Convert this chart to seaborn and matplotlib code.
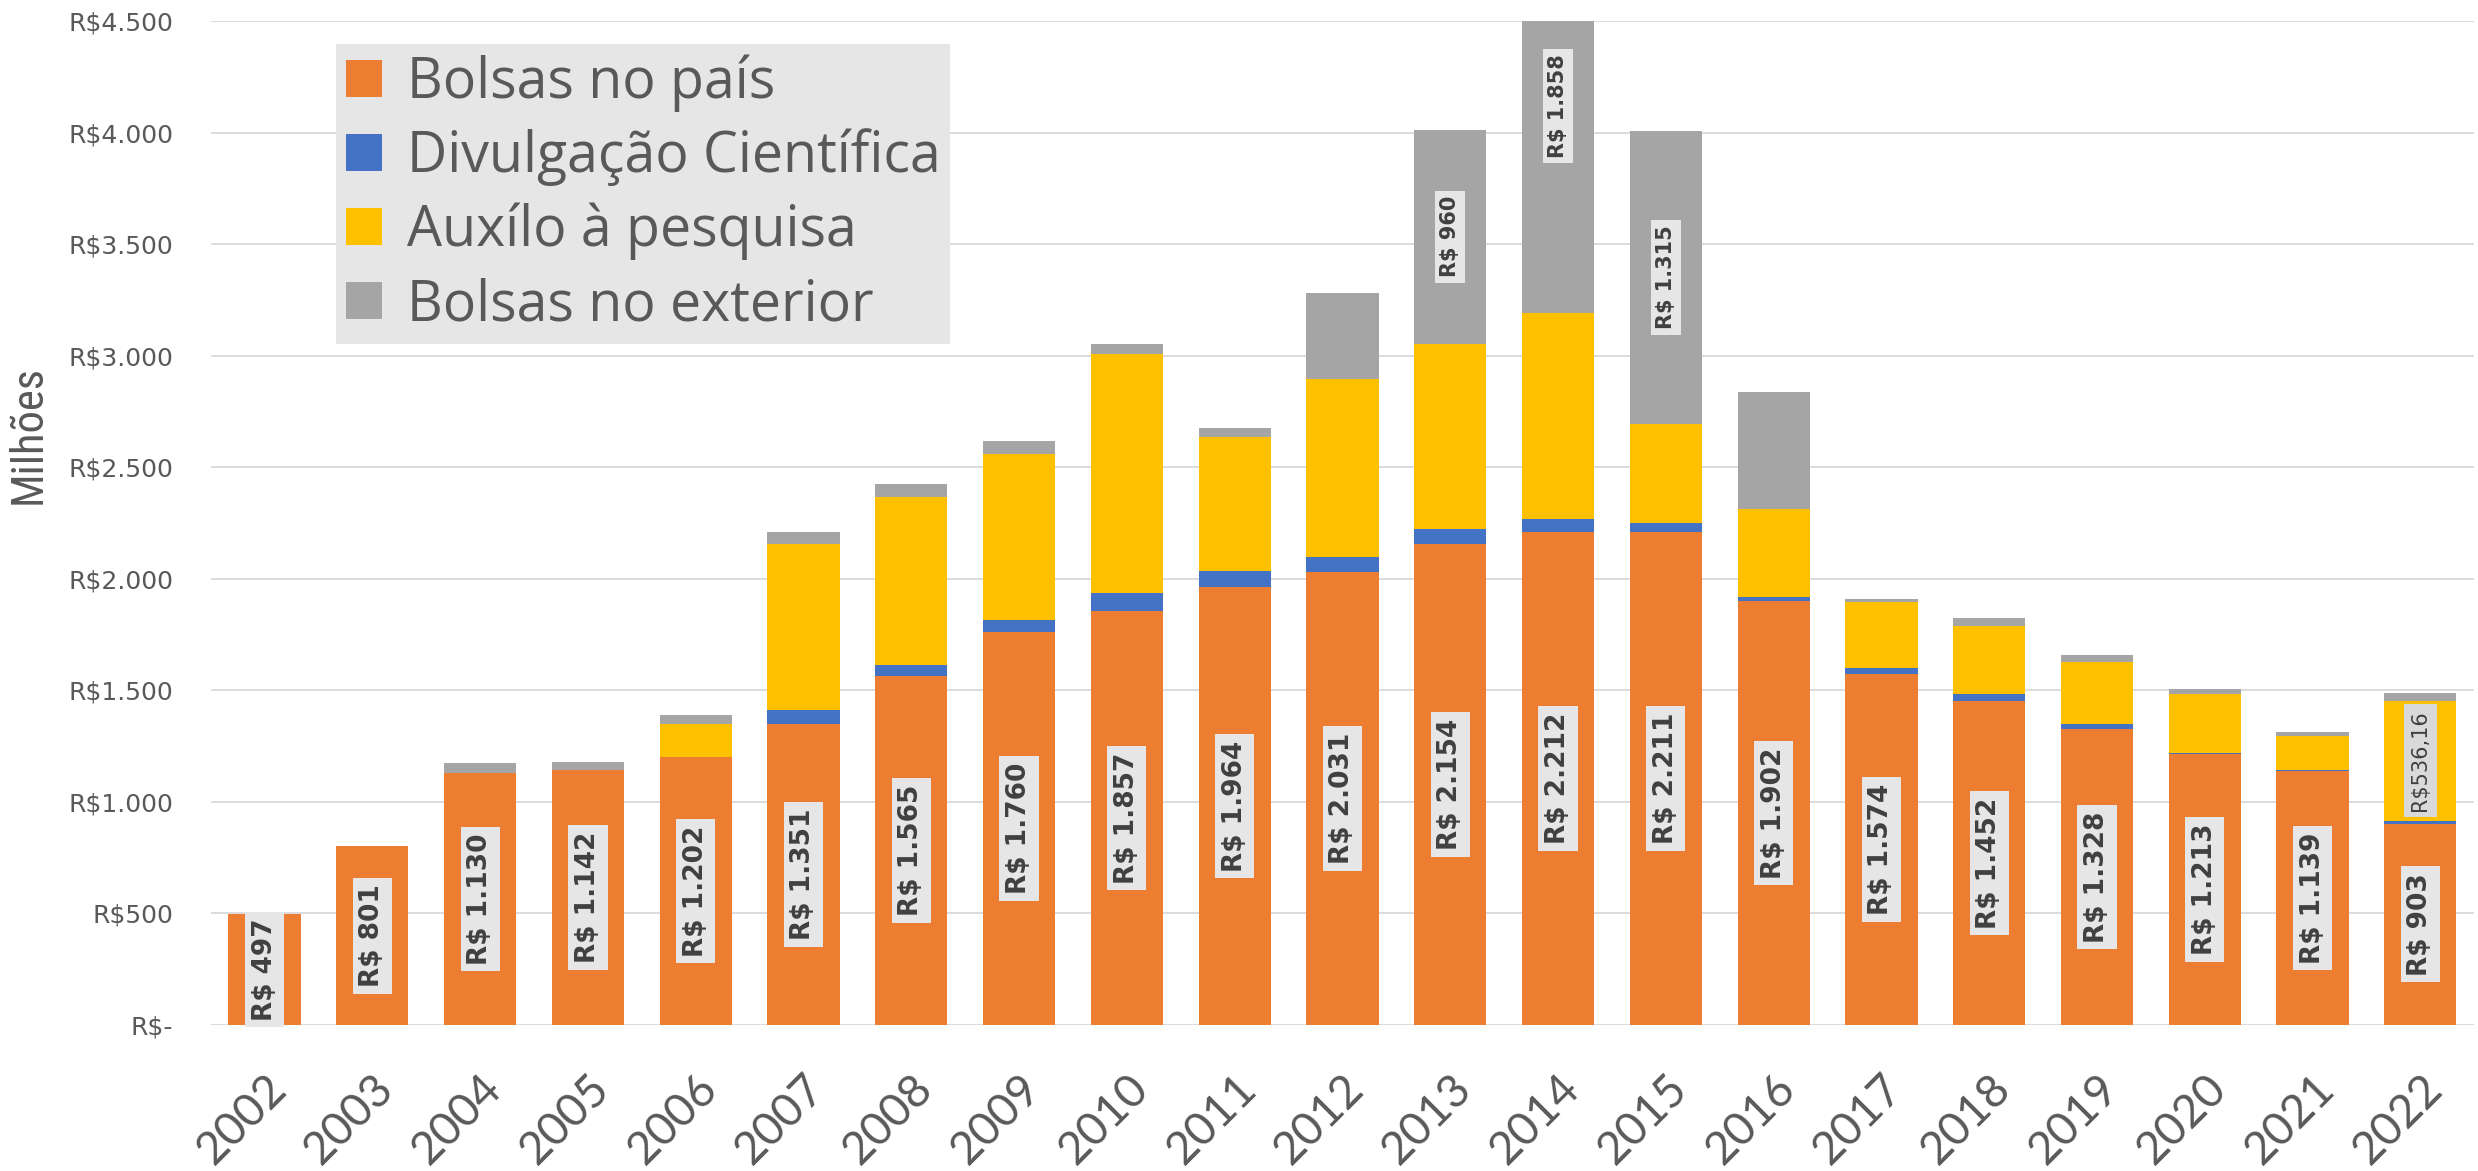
# -*- coding: utf-8 -*-
# Investimento CNPq por modalidade (2002-2022) - barras empilhadas

import pandas as pd
import matplotlib
matplotlib.use('Agg')
import matplotlib.pyplot as plt
import seaborn as sns
from matplotlib.patches import Patch

#%% dados (milhões de R$)
anos = ['2002', '2003', '2004', '2005', '2006', '2007', '2008', '2009', '2010', '2011', '2012',
        '2013', '2014', '2015', '2016', '2017', '2018', '2019', '2020', '2021', '2022']
bolsas_pais = [497, 801, 1130, 1142, 1202, 1351, 1565, 1760, 1857, 1964, 2031,
               2154, 2212, 2211, 1902, 1574, 1452, 1328, 1213, 1139, 903]
divulgacao = [0, 0, 0, 0, 0, 59, 50, 57, 80, 72, 66,
              70, 55, 41, 17, 25, 32, 20, 5, 6, 13]
auxilio = [0, 0, 0, 0, 147, 748, 750, 743, 1070, 600, 797,
           829, 923, 441, 395, 295, 303, 280, 267, 152, 536.16]
exterior = [0, 0, 43, 37, 42, 53, 61, 58, 44, 42, 385,
            960, 1858, 1315, 523, 15, 36, 30, 19, 15, 35]

series = ['Bolsas no país', 'Divulgação Científica', 'Auxílo à pesquisa', 'Bolsas no exterior']
cores = ['#ED7D31', '#4472C4', '#FFC000', '#A5A5A5']

y_ticks = [0, 500, 1000, 1500, 2000, 2500, 3000, 3500, 4000, 4500]
y_rotulos = ['R$-', 'R$500', 'R$1.000', 'R$1.500', 'R$2.000', 'R$2.500',
             'R$3.000', 'R$3.500', 'R$4.000', 'R$4.500']

anos_rotulo_exterior = ['2013', '2014', '2015']
anos_rotulo_auxilio = ['2022']

#%% montagem do dataframe com somas acumuladas
df = pd.DataFrame({'ano': anos, 'pais': bolsas_pais, 'divulg': divulgacao,
                   'aux': auxilio, 'ext': exterior})
df['c1'] = df['pais']
df['c2'] = df['c1'] + df['divulg']
df['c3'] = df['c2'] + df['aux']
df['c4'] = df['c3'] + df['ext']

#%% gráfico
sns.set_theme(style='white')
plt.rcParams['font.family'] = ['DejaVu Sans']
cinza_txt = '#595959'

fig, ax = plt.subplots(figsize=(24.78, 11.71), dpi=100)
fig.subplots_adjust(left=0.085, right=0.9985, bottom=0.1247, top=0.982)

# empilhamento: desenha do total para a base
for col, cor in [('c4', cores[3]), ('c3', cores[2]), ('c2', cores[1]), ('c1', cores[0])]:
    sns.barplot(data=df, x='ano', y=col, color=cor, saturation=1, width=0.67,
                errorbar=None, linewidth=0, ax=ax)

ax.set_xlim(-0.5, len(anos) - 0.5)
ax.set_ylim(0, 4500)
ax.set_yticks(y_ticks)
ax.set_yticklabels(y_rotulos)
ax.set_axisbelow(True)
ax.yaxis.grid(True, color='#d9d9d9', linewidth=1.3)
ax.xaxis.grid(False)
for s in ax.spines.values():
    s.set_visible(False)
ax.tick_params(length=0)
ax.tick_params(axis='y', labelsize=18, labelcolor=cinza_txt, pad=27)
ax.tick_params(axis='x', labelsize=33, labelcolor=cinza_txt, pad=30)
plt.setp(ax.get_xticklabels(), rotation=45, ha='right', va='top',
         rotation_mode='anchor', family='Lato')
ax.set_xlabel('')
ax.set_ylabel('Milhões', fontsize=32, color=cinza_txt,
              family=['Liberation Sans Narrow', 'Roboto Condensed', 'Lato'])
ax.yaxis.set_label_coords(-0.071, 0.588)

# rótulos de dados
def moeda(v):
    return 'R$ ' + f'{v:,.0f}'.replace(',', '.')

caixa = dict(boxstyle='square,pad=0.25', fc='#e6e6e6', ec='none')
for i, ano in enumerate(anos):
    ax.text(i, df.c1[i] / 2, moeda(df.pais[i]), rotation=90, ha='center', va='center',
            fontsize=19, fontweight='bold', color='#404040', bbox=caixa)
    if ano in anos_rotulo_exterior:
        ax.text(i, df.c3[i] + df.ext[i] / 2, moeda(df.ext[i]), rotation=90,
                ha='center', va='center', fontsize=15, fontweight='bold',
                color='#404040', bbox=caixa)
    if ano in anos_rotulo_auxilio:
        ax.text(i, df.c2[i] + df.aux[i] / 2, f'R${df.aux[i]:.2f}'.replace('.', ','),
                rotation=90, ha='center', va='center', fontsize=15, color='#404040',
                bbox=dict(boxstyle='square,pad=0.3', fc='#d9d9d9', ec='none'))

# legenda
handles = [Patch(facecolor=c, edgecolor='none') for c in cores]
leg = ax.legend(handles, series, loc='upper left', bbox_to_anchor=(0.0552, 0.977),
                borderaxespad=0, frameon=True, fancybox=False, facecolor='#e6e6e6',
                edgecolor='none', framealpha=1, prop={'family': 'Open Sans', 'size': 40},
                handlelength=0.65, handleheight=0.65, handletextpad=0.45,
                labelspacing=0.3, borderpad=0.18)
for t in leg.get_texts():
    t.set_color(cinza_txt)

fig.savefig('out.png', dpi=100)
